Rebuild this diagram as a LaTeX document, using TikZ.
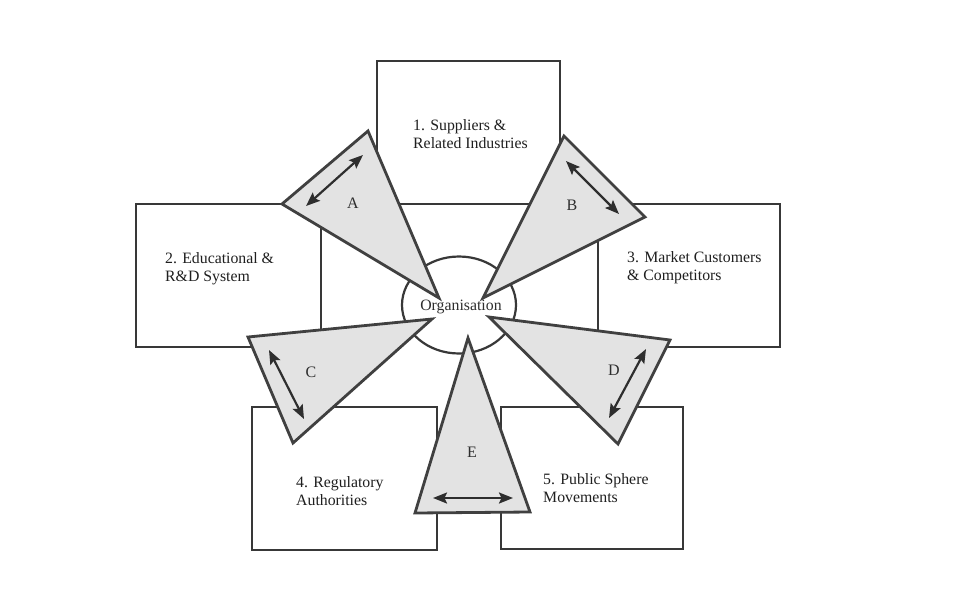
\documentclass[tikz,border=0pt]{standalone}
\usepackage{fontspec}
\setmainfont{Liberation Serif}
\usetikzlibrary{arrows.meta,shapes.geometric}

\tikzset{
  box/.style={draw=black!78, line width=2.2pt, fill=none, inner sep=0pt},
  boxtext/.style={anchor=west, align=left, inner sep=0pt,
    font=\fontsize{15.8}{18}\selectfont, text=black!88},
  wedge/.style={draw=black!75, line width=2.8pt, fill=black!11, line join=miter},
  link/.style={draw=black!82, line width=2.2pt,
    {Stealth[length=14pt,width=11pt,inset=2.5pt]}-{Stealth[length=14pt,width=11pt,inset=2.5pt]}},
  tag/.style={font=\fontsize{16}{18}\selectfont, text=black!82, inner sep=0pt},
}

\begin{document}
\begin{tikzpicture}[x=1pt,y=-1pt]
  \useasboundingbox (0,0) rectangle (956,592);
  \fill[white] (0,0) rectangle (956,592);

  % the five surrounding systems
  \node[box, minimum width=183pt, minimum height=143pt] (b1) at (468.5,132.5) {};
  \node[box, minimum width=185pt, minimum height=143pt] (b2) at (228.5,275.5) {};
  \node[box, minimum width=182pt, minimum height=143pt] (b3) at (689,275.5) {};
  \node[box, minimum width=185pt, minimum height=143pt] (b4) at (344.5,478.5) {};
  \node[box, minimum width=182pt, minimum height=142pt] (b5) at (592,478) {};

  % the organisation in the middle
  \node[ellipse, draw=black!78, line width=2.2pt, fill=white,
        minimum width=114pt, minimum height=97pt, inner sep=0pt] (org) at (459,305) {};

  % wedge corners
  \coordinate (A1) at (368,131); \coordinate (A2) at (282,204); \coordinate (A3) at (439,298);
  \coordinate (B1) at (564,136); \coordinate (B2) at (645,217); \coordinate (B3) at (483,298);
  \coordinate (C1) at (248,337); \coordinate (C2) at (432,319); \coordinate (C3) at (293,443);
  \coordinate (D1) at (489,317); \coordinate (D2) at (670,340); \coordinate (D3) at (618,444);
  \coordinate (E1) at (468,338); \coordinate (E2) at (415,513); \coordinate (E3) at (530,512);

  \draw[wedge] (A1) -- (A2) -- (A3) -- cycle;
  \draw[wedge] (B1) -- (B2) -- (B3) -- cycle;
  \draw[wedge] (C1) -- (C2) -- (C3) -- cycle;
  \draw[wedge] (D1) -- (D2) -- (D3) -- cycle;
  \draw[wedge] (E1) -- (E2) -- (E3) -- cycle;

  % two-way exchanges
  \coordinate (Aa) at (306,206); \coordinate (Ab) at (363,155);
  \coordinate (Ba) at (566,161); \coordinate (Bb) at (619,214);
  \coordinate (Ca) at (269,350); \coordinate (Cb) at (304,419);
  \coordinate (Da) at (646,349); \coordinate (Db) at (609,418);
  \coordinate (Ea) at (433,498); \coordinate (Eb) at (513,498);
  \draw[link] (Aa) -- (Ab);
  \draw[link] (Ba) -- (Bb);
  \draw[link] (Ca) -- (Cb);
  \draw[link] (Da) -- (Db);
  \draw[link] (Ea) -- (Eb);

  % wedge letters
  \node[tag] (lA) at (353,203) {A};
  \node[tag] (lB) at (572,205) {B};
  \node[tag] (lC) at (311,372) {C};
  \node[tag] (lD) at (614,370) {D};
  \node[tag] (lE) at (472,452) {E};

  % labels
  \node[boxtext] (t1) at (413,134) {1. Suppliers \&\\Related Industries};
  \node[boxtext] (t2) at (165,269) {2. Educational \&\\R\&D System};
  \node[boxtext] (t3) at (627,268) {3. Market Customers\\\& Competitors};
  \node[boxtext] (t4) at (296,491) {4. Regulatory\\Authorities};
  \node[boxtext] (t5) at (543,488) {5. Public Sphere\\Movements};
  \node[tag, font=\fontsize{15.8}{18}\selectfont] (to) at (461,307) {Organisation};
\end{tikzpicture}
\end{document}
